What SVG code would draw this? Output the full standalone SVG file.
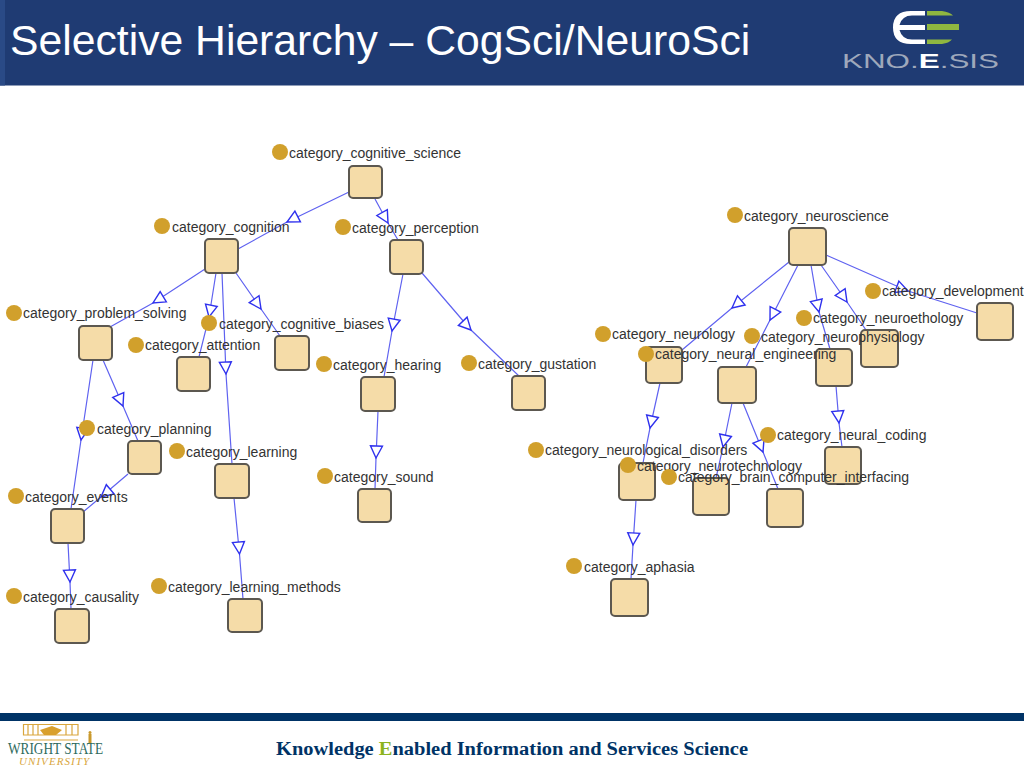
<svg xmlns="http://www.w3.org/2000/svg" width="1024" height="768" viewBox="0 0 1024 768">
<style>
.n{fill:#f5dca8;stroke:#5c5850;stroke-width:2}
.d{fill:#d1a02c}
.l{font:14px "Liberation Sans",Arial,sans-serif;fill:#333}
.e{fill:none;stroke:#5f62f0;stroke-width:1.2;marker-mid:url(#tri)}
</style>
<defs>
<marker id="tri" markerUnits="userSpaceOnUse" markerWidth="18" markerHeight="18" refX="15" refY="9" orient="auto" viewBox="0 0 18 18">
<path d="M3 3L15 9L3 15Z" fill="#fff" stroke="#2f31ee" stroke-width="1.4"/>
</marker>
</defs>
<rect width="1024" height="768" fill="#fff"/>
<g id="header">
<rect width="1024" height="85.500" fill="#1f3b73"/>
<rect width="5" height="85.500" fill="#2a4a86"/>
<text x="10" y="55" font-family="Liberation Sans,Arial,sans-serif" font-size="42.700" fill="#fff">Selective Hierarchy – CogSci/NeuroSci</text>
</g>
<g id="knoesis-logo">
<path d="M925 11H911Q893 11 893 27.500Q893 44 911 44H925V39.500H912Q902 39.500 899.500 30H925V25H899.500Q902 15.500 912 15.500H925Z" fill="#fff"/>
<path d="M927 11H942Q950 12 953 15.500H927ZM927 24H959V30H927ZM927 39.500H952Q949 43 942 44H927Z" fill="#8fb740"/>
<text x="842" y="68" font-family="Liberation Sans,Arial,sans-serif" font-size="21" fill="#9ea8bb" textLength="157" lengthAdjust="spacingAndGlyphs">KNO.<tspan fill="#fff" font-weight="bold">E</tspan>.SIS</text>
</g>
<g id="connectors">
<path class="e" d="M349 192L287 222L238 249"/>
<path class="e" d="M375 199L388 223L398 240"/>
<path class="e" d="M205 269L153 303L110 327"/>
<path class="e" d="M216 273L209 317L199 357"/>
<path class="e" d="M222 273L226 374L232 464"/>
<path class="e" d="M236 273L261 309L280 336"/>
<path class="e" d="M403 274L392 331L384 377"/>
<path class="e" d="M422 273L471 330L520 377"/>
<path class="e" d="M103 360L123 406L138 441"/>
<path class="e" d="M93 360L81 440L71 509"/>
<path class="e" d="M128 474L101 497L83 512"/>
<path class="e" d="M68 543L70 582L71 609"/>
<path class="e" d="M234 498L239.500 554L243 599"/>
<path class="e" d="M378 411L376 458L375 489"/>
<path class="e" d="M826 255L908 291L977 313"/>
<path class="e" d="M821 265L847 302L866 330"/>
<path class="e" d="M811 265L819 312L830 349"/>
<path class="e" d="M798 265L770 320L746 367"/>
<path class="e" d="M789 262L732 308L682 350"/>
<path class="e" d="M660 383L650 428L643 463"/>
<path class="e" d="M732 403L723 447L716 478"/>
<path class="e" d="M743 403L763 452L778 489"/>
<path class="e" d="M836 386L839 423L842 447"/>
<path class="e" d="M636 500L633 545L631 579"/>
</g>
<g id="category_cognitive_science"><rect class="n" x="349" y="166" width="33" height="32" rx="4"/><circle class="d" cx="280" cy="152" r="8"/><text class="l" x="289" y="158">category_cognitive_science</text></g>
<g id="category_cognition"><rect class="n" x="205" y="239" width="33" height="34" rx="4"/><circle class="d" cx="162" cy="226" r="8"/><text class="l" x="172" y="232">category_cognition</text></g>
<g id="category_perception"><rect class="n" x="390" y="240" width="33" height="34" rx="4"/><circle class="d" cx="343" cy="227" r="8"/><text class="l" x="352" y="233">category_perception</text></g>
<g id="category_problem_solving"><rect class="n" x="79" y="326" width="33" height="34" rx="4"/><circle class="d" cx="14" cy="313" r="8"/><text class="l" x="23" y="318">category_problem_solving</text></g>
<g id="category_attention"><rect class="n" x="177" y="357" width="33" height="34" rx="4"/><circle class="d" cx="136" cy="345" r="8"/><text class="l" x="145" y="350">category_attention</text></g>
<g id="category_cognitive_biases"><rect class="n" x="275" y="336" width="34" height="34" rx="4"/><circle class="d" cx="209" cy="323" r="8"/><text class="l" x="219" y="329">category_cognitive_biases</text></g>
<g id="category_hearing"><rect class="n" x="361" y="377" width="34" height="34" rx="4"/><circle class="d" cx="324" cy="364" r="8"/><text class="l" x="333" y="370">category_hearing</text></g>
<g id="category_gustation"><rect class="n" x="512" y="376" width="33" height="34" rx="4"/><circle class="d" cx="469" cy="363" r="8"/><text class="l" x="478" y="369">category_gustation</text></g>
<g id="category_planning"><rect class="n" x="128" y="441" width="33" height="33" rx="4"/><circle class="d" cx="87" cy="428" r="8"/><text class="l" x="97" y="434">category_planning</text></g>
<g id="category_learning"><rect class="n" x="215" y="464" width="34" height="34" rx="4"/><circle class="d" cx="177" cy="451" r="8"/><text class="l" x="186" y="457">category_learning</text></g>
<g id="category_events"><rect class="n" x="51" y="509" width="33" height="34" rx="4"/><circle class="d" cx="16" cy="496" r="8"/><text class="l" x="25" y="502">category_events</text></g>
<g id="category_sound"><rect class="n" x="358" y="489" width="33" height="33" rx="4"/><circle class="d" cx="325" cy="476" r="8"/><text class="l" x="334" y="482">category_sound</text></g>
<g id="category_causality"><rect class="n" x="55" y="609" width="34" height="34" rx="4"/><circle class="d" cx="14" cy="596" r="8"/><text class="l" x="23" y="602">category_causality</text></g>
<g id="category_learning_methods"><rect class="n" x="228" y="599" width="34" height="33" rx="4"/><circle class="d" cx="159" cy="586" r="8"/><text class="l" x="168" y="592">category_learning_methods</text></g>
<g id="category_neuroscience"><rect class="n" x="789" y="228" width="37" height="37" rx="4"/><circle class="d" cx="735" cy="215" r="8"/><text class="l" x="744" y="221">category_neuroscience</text></g>
<g id="category_development"><rect class="n" x="977" y="303" width="36" height="37" rx="4"/><circle class="d" cx="873" cy="291" r="8"/><text class="l" x="882" y="296">category_development</text></g>
<g id="category_neuroethology"><rect class="n" x="861" y="330" width="37" height="37" rx="4"/><circle class="d" cx="804" cy="318" r="8"/><text class="l" x="813" y="323">category_neuroethology</text></g>
<g id="category_neurophysiology"><rect class="n" x="816" y="349" width="36" height="37" rx="4"/><circle class="d" cx="752" cy="336" r="8"/><text class="l" x="761" y="342">category_neurophysiology</text></g>
<g id="category_neurology"><rect class="n" x="646" y="347" width="36" height="36" rx="4"/><circle class="d" cx="603" cy="334" r="8"/><text class="l" x="612" y="339">category_neurology</text></g>
<g id="category_neural_engineering"><rect class="n" x="718" y="367" width="38" height="36" rx="4"/><circle class="d" cx="646" cy="354" r="8"/><text class="l" x="655" y="359">category_neural_engineering</text></g>
<g id="category_neural_coding"><rect class="n" x="825" y="447" width="36" height="37" rx="4"/><circle class="d" cx="768" cy="435" r="8"/><text class="l" x="777" y="440">category_neural_coding</text></g>
<g id="category_neurological_disorders"><rect class="n" x="619" y="463" width="36" height="37" rx="4"/><circle class="d" cx="536" cy="450" r="8"/><text class="l" x="545" y="455">category_neurological_disorders</text></g>
<g id="category_neurotechnology"><rect class="n" x="693" y="478" width="36" height="37" rx="4"/><circle class="d" cx="628" cy="465" r="8"/><text class="l" x="637" y="471">category_neurotechnology</text></g>
<g id="category_brain_computer_interfacing"><rect class="n" x="767" y="489" width="36" height="38" rx="4"/><circle class="d" cx="669" cy="477" r="8"/><text class="l" x="678" y="482">category_brain_computer_interfacing</text></g>
<g id="category_aphasia"><rect class="n" x="611" y="579" width="37" height="37" rx="4"/><circle class="d" cx="574" cy="566" r="8"/><text class="l" x="584" y="572">category_aphasia</text></g>
<g id="footer">
<rect y="713" width="1024" height="8" fill="#003366"/>
<g id="wright-state-logo">
<path d="M23.500 724.500H78V735H23.500ZM28 724.500V735M33 724.500V735M38 724.500V735M66 724.500V735M72 724.500V735M24 740H78" fill="none" stroke="#d9a63c" stroke-width="1.200"/>
<path d="M40 730L52 726L62 730L56 735H44Z" fill="#d9a02c"/>
<rect x="88.500" y="734" width="3" height="9" fill="#c9992c"/>
<circle cx="90" cy="732.500" r="1.500" fill="#c9992c"/>
<text x="8" y="754" font-family="Liberation Serif,serif" font-size="16.500" fill="#2f6b5e" textLength="95" lengthAdjust="spacingAndGlyphs">WRIGHT STATE</text>
<text x="19" y="765" font-family="Liberation Serif,serif" font-size="11" font-style="italic" fill="#d9a63c" textLength="70" lengthAdjust="spacing">UNIVERSITY</text>
</g>
<text x="276" y="755" font-family="Liberation Serif,serif" font-size="18" font-weight="bold" fill="#003366" textLength="472" lengthAdjust="spacingAndGlyphs">Knowledge <tspan fill="#8cb31e">E</tspan>nabled Information and Services Science</text>
</g>
</svg>
